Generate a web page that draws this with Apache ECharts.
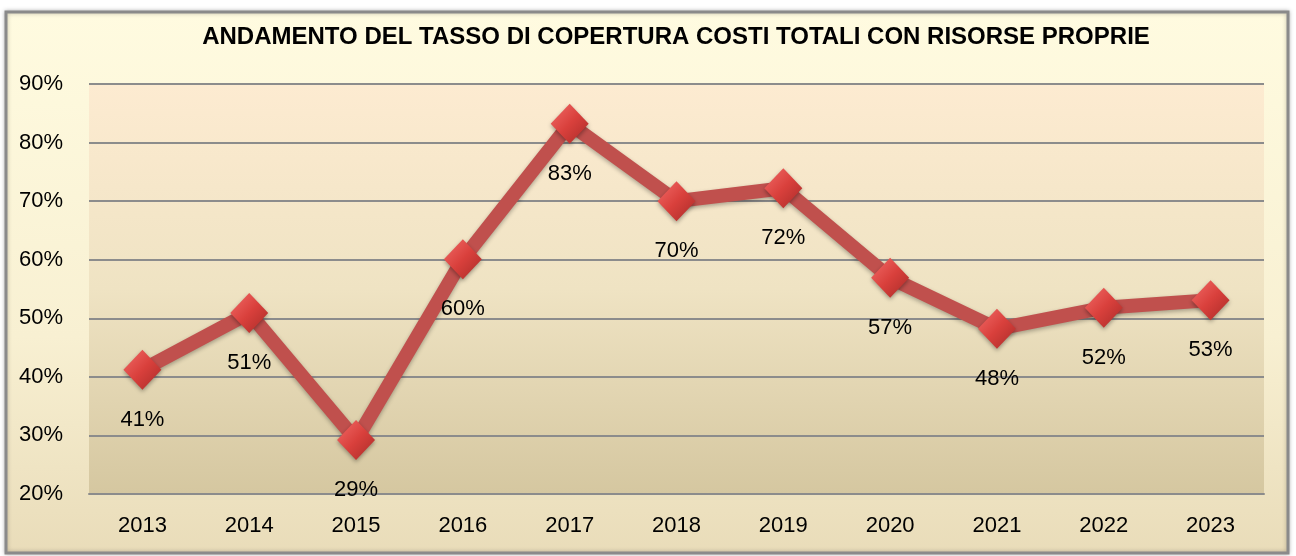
<!DOCTYPE html>
<html>
<head>
<meta charset="utf-8">
<script src="https://cdn.jsdelivr.net/npm/echarts@6/dist/echarts.min.js"></script>
<style>
  html, body { margin: 0; padding: 0; background: #ffffff; }
  #myechart { width: 1296px; height: 556px; }
</style>
</head>
<body>
<div id="myechart"></div>
<script>
var titleText = 'ANDAMENTO DEL TASSO DI COPERTURA COSTI TOTALI CON RISORSE PROPRIE';
var years = ['2013', '2014', '2015', '2016', '2017', '2018', '2019', '2020', '2021', '2022', '2023'];
var coverage = [41.2, 50.9, 29.2, 60.1, 83.2, 70.0, 72.2, 56.9, 48.2, 51.8, 53.1];
var yMin = 20, yMax = 90, yStep = 10;

var font = '"Liberation Sans", Arial, sans-serif';

var myechart = echarts.init(document.getElementById('myechart'));

var option = {
  animation: false,
  graphic: [
    {
      type: 'rect',
      shape: { x: 6, y: 12, width: 1282, height: 541 },
      style: {
        fill: new echarts.graphic.LinearGradient(0, 0, 0, 1, [
          { offset: 0, color: '#fffbe0' },
          { offset: 0.6, color: '#f8f0d2' },
          { offset: 1, color: '#e9dcb9' }
        ]),
        stroke: '#8a8a8a',
        lineWidth: 3,
        shadowBlur: 4,
        shadowColor: 'rgba(0,0,0,0.25)'
      },
      z: -10
    }
  ],
  title: {
    text: titleText,
    left: 671,
    textAlign: 'center',
    top: 20,
    textStyle: { fontFamily: font, fontWeight: 'bold', fontSize: 24, color: '#000' }
  },
  grid: {
    left: 89,
    right: 32,
    top: 84,
    bottom: 62,
    show: true,
    borderWidth: 0,
    backgroundColor: new echarts.graphic.LinearGradient(0, 0, 0, 1, [
      { offset: 0, color: '#fdebd1' },
      { offset: 0.5, color: '#efe3c3' },
      { offset: 1, color: '#d5c7a0' }
    ])
  },
  xAxis: {
    type: 'category',
    data: years,
    boundaryGap: true,
    axisLine: { show: true, lineStyle: { color: '#8c8c8c', width: 2 } },
    axisTick: { show: false },
    axisLabel: { fontFamily: font, fontSize: 22, color: '#000', margin: 21 }
  },
  yAxis: {
    type: 'value',
    min: yMin,
    max: yMax,
    interval: yStep,
    axisLine: { show: false },
    axisTick: { show: false },
    splitLine: { lineStyle: { color: '#8c8c8c', width: 2 } },
    axisLabel: {
      fontFamily: font, fontSize: 22, color: '#000', margin: 26,
      formatter: function (v) { return v + '%'; }
    }
  },
  series: [
    {
      type: 'line',
      data: coverage,
      symbol: 'diamond',
      symbolSize: [38, 40],
      lineStyle: {
        color: '#c0504d',
        width: 14,
        shadowBlur: 4,
        shadowColor: 'rgba(0,0,0,0.3)',
        shadowOffsetY: 2
      },
      itemStyle: {
        color: new echarts.graphic.LinearGradient(0, 0, 1, 1, [
          { offset: 0, color: '#f26b68' },
          { offset: 0.5, color: '#d9403c' },
          { offset: 1, color: '#a92b28' }
        ]),
        borderWidth: 0,
        shadowBlur: 4,
        shadowColor: 'rgba(0,0,0,0.35)',
        shadowOffsetY: 2
      },
      label: {
        show: true,
        position: 'bottom',
        distance: 19,
        fontFamily: font,
        fontSize: 22,
        color: '#000',
        formatter: function (p) { return Math.round(p.value) + '%'; }
      },
      z: 5
    }
  ]
};

myechart.setOption(option);
</script>
</body>
</html>
